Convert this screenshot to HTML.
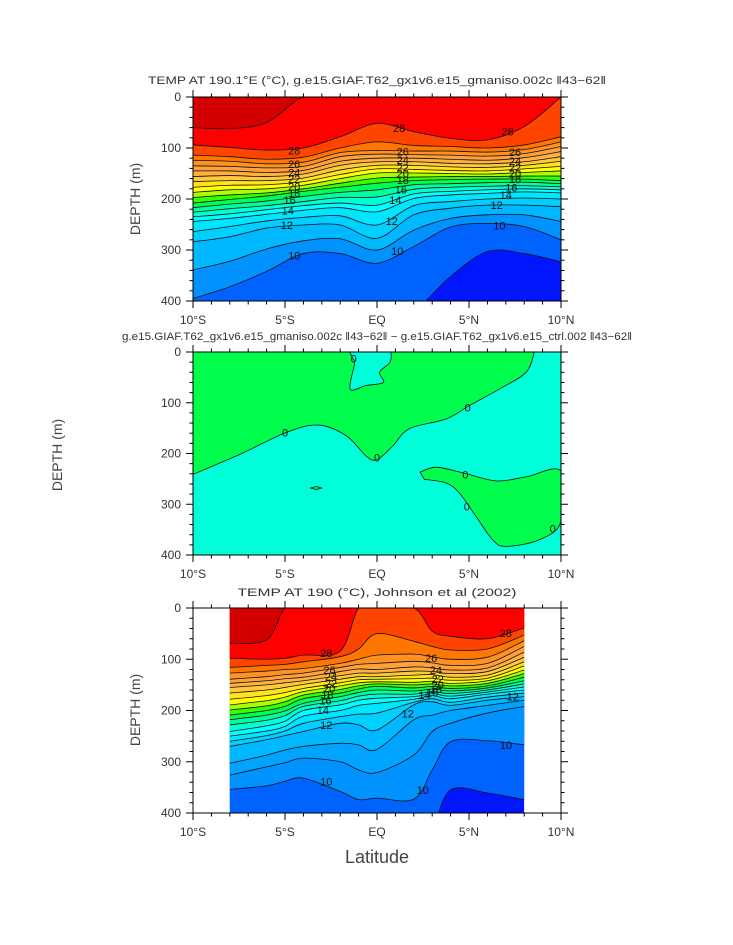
<!DOCTYPE html>
<html><head><meta charset="utf-8"><title>Temperature sections</title>
<style>
html,body{margin:0;padding:0;background:#fff;}
svg{display:block;font-family:"Liberation Sans",sans-serif;}
</style></head>
<body>
<svg id="chart" width="733" height="945" viewBox="0 0 733 945" xmlns="http://www.w3.org/2000/svg">
<rect x="0" y="0" width="733" height="945" fill="#fff"/>
<text x="377" y="84" text-anchor="middle" font-size="11" fill="#333" textLength="458" lengthAdjust="spacingAndGlyphs">TEMP AT 190.1°E (°C), g.e15.GIAF.T62_gx1v6.e15_gmaniso.002c ‖43−62‖</text>
<text x="377" y="340" text-anchor="middle" font-size="11" fill="#333" textLength="510" lengthAdjust="spacingAndGlyphs">g.e15.GIAF.T62_gx1v6.e15_gmaniso.002c ‖43−62‖ − g.e15.GIAF.T62_gx1v6.e15_ctrl.002 ‖43−62‖</text>
<text x="377" y="596" text-anchor="middle" font-size="11" fill="#333" textLength="279" lengthAdjust="spacingAndGlyphs">TEMP AT 190 (°C), Johnson et al (2002)</text>
<text transform="translate(140,199) rotate(-90)" text-anchor="middle" font-size="14" fill="#444">DEPTH (m)</text>
<text transform="translate(62,455) rotate(-90)" text-anchor="middle" font-size="14" fill="#444">DEPTH (m)</text>
<text transform="translate(140,710) rotate(-90)" text-anchor="middle" font-size="14" fill="#444">DEPTH (m)</text>
<text x="377" y="863" text-anchor="middle" font-size="18" fill="#444">Latitude</text>
<g id="layer"></g>
</svg>
<script>
const xTickLats = [-10, -5, 0, 5, 10];
const xTickLabels = ['10°S', '5°S', 'EQ', '5°N', '10°N'];
const yTickDepths = [0, 100, 200, 300, 400];
const yTickLabels = ['0', '100', '200', '300', '400'];

// Panel 1: model temperature, isotherm depths (m) per latitude
const lats1 = [-10, -8, -6, -4, -2, 0, 2, 4, 6, 8, 10];
const levels1 = [29, 28, 27, 26, 25, 24, 23, 22, 21, 20, 19, 18, 17, 16, 15, 14, 13, 12, 11, 10, 9];
const depths1 = [
 [60,62,50,0,0,0,0,0,0,0,0],
 [94,99,104,100,78,52,68,81,84,58,0],
 [114,117,122,118,100,88,95,97,100,94,78],
 [124,126,131,128,109,105,106,106,108,103,88],
 [135,136,139,136,117,112,113,114,116,111,97],
 [145,145,148,144,126,120,120,122,124,119,107],
 [156,154,156,151,134,127,127,130,131,127,117],
 [166,164,164,159,143,134,134,137,138,134,126],
 [177,173,172,166,152,141,142,144,145,141,136],
 [187,182,180,173,160,149,149,150,151,148,145],
 [197,192,188,180,169,159,157,156,156,155,155],
 [208,201,194,185,177,169,164,162,161,161,164],
 [217,210,204,195,187,182,172,170,168,167,170],
 [226,219,213,205,197,196,181,177,175,174,176],
 [235,229,221,213,208,212,190,185,182,180,182],
 [244,238,230,222,217,225,199,192,189,186,188],
 [264,254,243,236,233,251,213,205,200,198,200],
 [284,274,257,251,251,277,231,218,212,212,215],
 [339,322,298,282,278,300,261,238,231,231,244],
 [395,372,342,307,307,326,293,255,248,254,280],
 [450,450,450,450,450,450,420,352,303,307,323]
];
const labelLats1 = [-4.5,1.2,7.1,-4.5,1.4,7.5,-4.5,1.4,7.5,-4.5,1.4,7.5,-4.5,1.4,7.5,-4.5,1.4,7.5,-4.75,1.3,7.3,-4.85,1.0,7.0,-4.9,0.8,6.5,-4.5,1.1,6.65];
const labelDepths1 = [105,61,68,131,107,108,148,124,125,161,138,138,175,150,150,188,163,161,202,181,177,223,202,192,251,243,212,311,302,252];
const labelTexts1 = ['28','28','28','26','26','26','24','24','24','22','22','22','20','20','20','18','18','18','16','16','16','14','14','14','12','12','12','10','10','10'];

// Panel 2: difference field, zero contour geometry
const p2BoundaryLat = [-10,-7.47,-4.97,-3.2,-1.67,-0.59,0,0.86,1.76,3.75,5.0,6.65,8.1,8.55];
const p2BoundaryDepth = [241,202,159,144,165,205,212,185,151,132,106,73,40,0];
const p2NotchLat = [-1.49,-1.31,-1.22,-1.46,-0.59,0.35,0.14,0.71,0.77];
const p2NotchDepth = [0,13,23,73,66,60,40,20,0];
const p2LobeLat = [2.34,3.21,4.66,6.47,8.1,10,10,8.82,7.01,6.29,5.38,4.48,3.76,2.58];
const p2LobeDepth = [237,227,238,254,246,235,334,370,383,370,324,278,258,251];
const p2IsleLat = [-3.6,-3.3,-3.0,-3.3];
const p2IsleDepth = [268,265,268,271];
const labelLats2 = [-5.0,0.0,4.93,4.8,4.88,9.55,-1.27];
const labelDepths2 = [159,208,109,241,304,348,13];
const labelTexts2 = ['0','0','0','0','0','0','0'];

// Panel 3: observed temperature (Johnson et al 2002)
const lats3 = [-8, -6, -5, -4, -2, -1, 0, 2, 3, 4, 6, 8];
const levels3 = [29, 28, 27, 26, 25, 24, 23, 22, 21, 20, 19, 18, 17, 16, 15, 14, 13, 12, 11, 10.5, 10, 9];
const depths3 = [
 [69,62,0,0,0,0,0,0,0,0,0,0],
 [98,100,98,92,84,0,0,0,45,55,60,39],
 [116,112,110,105,95,80,50,65,75,82,80,53],
 [127,123,120,118,108,100,92,90,95,100,96,64],
 [139,134,130,127,116,110,108,104,107,112,108,75],
 [147,142,138,135,124,119,120,115,117,121,117,86],
 [155,150,146,142,132,127,127,123,124,128,124,96],
 [166,160,155,149,139,134,134,131,130,135,131,105],
 [178,171,165,157,146,140,139,138,137,141,137,113],
 [189,181,174,163,152,146,144,145,143,147,142,121],
 [199,191,183,170,159,152,148,150,148,152,147,128],
 [209,200,192,177,166,158,153,156,153,157,152,135],
 [218,209,201,186,173,165,160,162,158,162,156,142],
 [228,219,210,192,181,172,168,168,163,167,160,148],
 [241,230,221,200,189,180,176,173,167,172,164,154],
 [250,240,231,211,200,190,186,178,171,177,168,160],
 [260,249,240,225,212,207,205,184,177,184,174,166],
 [270,257,249,241,225,228,238,189,183,190,180,173],
 [303,287,277,270,264,267,276,218,209,200,190,180],
 [326,310,302,293,300,316,321,287,241,225,205,192],
 [354,347,338,332,358,374,371,373,316,261,259,267],
 [450,450,450,450,450,450,450,460,430,355,361,374]
];
const labelLats3 = [-2.76,7.0,-2.58,2.94,-2.5,3.2,-2.5,3.3,-2.6,3.3,-2.7,3.2,-2.8,3.0,-2.94,2.58,-2.76,1.67,7.38,-2.76,2.49,7.01];
const labelDepths3 = [88,49,121,98,134,121,147,139,157,150,170,158,180,165,199,170,228,206,173,339,355,267];
const labelTexts3 = ['28','28','26','26','24','24','22','22','20','20','18','18','16','16','14','14','12','12','12','10','10','10'];

const bandColors = {29:'#d40000',28:'#ff0000',27:'#ff4400',26:'#ff7700',25:'#ff9022',24:'#ffa03c',23:'#ffb13c',22:'#ffc83c',21:'#ffe41c',20:'#ffff00',19:'#aaff00',18:'#33ff00',17:'#00ff55',16:'#00ff9c',15:'#00ffd4',14:'#00ffff',13:'#00e6ff',12:'#00d0ff',11:'#00b8ff',10.5:'#00a4ff',10:'#0092ff',9:'#0062ff'};
const coldColor = '#0016ff';

const NS = 'http://www.w3.org/2000/svg';
const layer = document.getElementById('layer');
const X0 = 193, X1 = 561;
function xScale(lat){ return X0 + (lat + 10) * (X1 - X0) / 20; }
function yScale(p, d){ return p.y0 + d * (p.y1 - p.y0) / 400; }
function mk(tag, attrs, parent){
  const e = document.createElementNS(NS, tag);
  for (const k in attrs) e.setAttribute(k, attrs[k]);
  (parent || layer).appendChild(e);
  return e;
}
function f(v){ return v.toFixed(2); }
function crSegs(pts){
  let s = '';
  for (let i = 0; i < pts.length - 1; i++){
    const p0 = pts[i-1] || pts[i], p1 = pts[i], p2 = pts[i+1], p3 = pts[i+2] || pts[i+1];
    const c1 = [p1[0] + (p2[0]-p0[0])/6, p1[1] + (p2[1]-p0[1])/6];
    const c2 = [p2[0] - (p3[0]-p1[0])/6, p2[1] - (p3[1]-p1[1])/6];
    s += ' C' + f(c1[0]) + ',' + f(c1[1]) + ' ' + f(c2[0]) + ',' + f(c2[1]) + ' ' + f(p2[0]) + ',' + f(p2[1]);
  }
  return s;
}
function ptsOf(p, lats, deps){ return lats.map((la, i) => [xScale(la), yScale(p, deps[i])]); }

const panels = [
  {id:1, y0:97, y1:301},
  {id:2, y0:352, y1:555},
  {id:3, y0:608, y1:813}
];

const defs = mk('defs', {});


function clipFor(id, x0, y0, x1, y1){
  const cp = mk('clipPath', {id: id}, defs);
  mk('rect', {x: x0, y: y0, width: x1 - x0, height: y1 - y0}, cp);
  return 'url(#' + id + ')';
}

function drawContourPanel(p, lats, levels, depths, lbLat, lbDep, lbTxt, latMin, latMax){
  const clip = clipFor('clip' + p.id, xScale(latMin), p.y0, xScale(latMax), p.y1);
  const g = mk('g', {'clip-path': clip});
  
  
  const bg = mk('rect', {x: xScale(latMin), y: p.y0, width: xScale(latMax) - xScale(latMin), height: p.y1 - p.y0, fill: coldColor}, g);
  
  
  const xl = xScale(lats[0]), xr = xScale(lats[lats.length-1]);
  for (let i = levels.length - 1; i >= 0; i--){
    const pts = ptsOf(p, lats, depths[i]);
    const d = 'M' + f(pts[0][0]) + ',' + f(pts[0][1]) + crSegs(pts) + ' L' + f(xr + 5) + ',' + f(pts[pts.length-1][1]) + ' L' + f(xr + 5) + ',' + (p.y0 - 10) + ' L' + f(xl - 5) + ',' + (p.y0 - 10) + ' L' + f(xl - 5) + ',' + f(pts[0][1]) + ' Z';
    const band = mk('path', {d: d, fill: bandColors[levels[i]], stroke: 'none'}, g);
    
    
  }
  const lg = mk('g', {'clip-path': clip, fill: 'none', stroke: '#111', 'stroke-width': 0.8});
  
  
  for (let i = 0; i < levels.length; i++){
    const pts = ptsOf(p, lats, depths[i]);
    const line = mk('path', {d: 'M' + f(pts[0][0]) + ',' + f(pts[0][1]) + crSegs(pts)}, lg);
    
    
  }
  drawLabels(p, lbLat, lbDep, lbTxt);
}

function drawLabels(p, lbLat, lbDep, lbTxt){
  for (let i = 0; i < lbTxt.length; i++){
    const t = mk('text', {x: f(xScale(lbLat[i])), y: f(yScale(p, lbDep[i]) + 4), 'text-anchor': 'middle', 'font-size': 11, fill: '#111'});
    t.textContent = lbTxt[i];
    
    
  }
}

function drawDiffPanel(p){
  const clip = clipFor('clip2', X0, p.y0, X1, p.y1);
  const g = mk('g', {'clip-path': clip});
  
  
  const bg = mk('rect', {x: X0, y: p.y0, width: X1 - X0, height: p.y1 - p.y0, fill: '#00ffd8'}, g);
  
  
  const bPts = ptsOf(p, p2BoundaryLat, p2BoundaryDepth);
  const rev = bPts.slice().reverse();
  const nPts = ptsOf(p, p2NotchLat, p2NotchDepth);
  let d = 'M' + f(X0 - 5) + ',' + f(p.y0 - 5) + ' L' + f(nPts[0][0]) + ',' + f(p.y0 - 5) + ' L' + f(nPts[0][0]) + ',' + f(nPts[0][1]) + crSegs(nPts) + ' L' + f(nPts[nPts.length-1][0]) + ',' + f(p.y0 - 5) + ' L' + f(rev[0][0]) + ',' + f(p.y0 - 5) + ' L' + f(rev[0][0]) + ',' + f(rev[0][1]) + crSegs(rev) + ' L' + f(X0 - 5) + ',' + f(rev[rev.length-1][1]) + ' Z';
  const top = mk('path', {d: d, fill: '#00ff4c'}, g);
  
  
  const lPts = ptsOf(p, p2LobeLat, p2LobeDepth);
  const lobeD = 'M' + f(lPts[0][0]) + ',' + f(lPts[0][1]) + crSegs(lPts) + ' Z';
  const lobe = mk('path', {d: lobeD, fill: '#00ff4c', stroke: '#111', 'stroke-width': 0.8}, g);
  
  
  const iPts = ptsOf(p, p2IsleLat, p2IsleDepth);
  const isle = mk('path', {d: 'M' + iPts.map(q => f(q[0]) + ',' + f(q[1])).join(' L') + ' Z', fill: '#00ff4c', stroke: '#111', 'stroke-width': 0.8}, g);
  
  
  const bl = mk('path', {d: 'M' + f(bPts[0][0]) + ',' + f(bPts[0][1]) + crSegs(bPts), fill: 'none', stroke: '#111', 'stroke-width': 0.8}, g);
  
  
  const nl = mk('path', {d: 'M' + f(nPts[0][0]) + ',' + f(nPts[0][1]) + crSegs(nPts), fill: 'none', stroke: '#111', 'stroke-width': 0.8}, g);
  
  
  drawLabels(p, labelLats2, labelDepths2, labelTexts2);
}

function drawAxes(p){
  const g = mk('g', {stroke: '#000', 'stroke-width': 1, fill: 'none'});
  
  
  const fr = mk('rect', {x: X0, y: p.y0, width: X1 - X0, height: p.y1 - p.y0}, g);
  
  
  for (let la = -10; la <= 10; la++){
    const maj = xTickLats.indexOf(la) >= 0;
    const L = maj ? 7 : 3.5;
    const x = xScale(la);
    const t1 = mk('line', {x1: x, x2: x, y1: p.y1, y2: p.y1 + L}, g);
    
    
    const t2 = mk('line', {x1: x, x2: x, y1: p.y0, y2: p.y0 - L}, g);
    
    
  }
  for (let dd = 0; dd <= 400; dd += 20){
    const maj = yTickDepths.indexOf(dd) >= 0;
    const L = maj ? 7 : 3.5;
    const y = yScale(p, dd);
    const t1 = mk('line', {x1: X0 - L, x2: X0, y1: y, y2: y}, g);
    
    
    const t2 = mk('line', {x1: X1, x2: X1 + L, y1: y, y2: y}, g);
    
    
  }
  for (let i = 0; i < xTickLats.length; i++){
    const t = mk('text', {x: xScale(xTickLats[i]), y: p.y1 + 23, 'text-anchor': 'middle', 'font-size': 12, fill: '#333'});
    t.textContent = xTickLabels[i];
    
    
  }
  for (let i = 0; i < yTickDepths.length; i++){
    const t = mk('text', {x: X0 - 12, y: yScale(p, yTickDepths[i]) + 4, 'text-anchor': 'end', 'font-size': 12, fill: '#333'});
    t.textContent = yTickLabels[i];
    
    
  }
}

drawContourPanel(panels[0], lats1, levels1, depths1, labelLats1, labelDepths1, labelTexts1, -10, 10);
drawDiffPanel(panels[1]);
drawContourPanel(panels[2], lats3, levels3, depths3, labelLats3, labelDepths3, labelTexts3, -8, 8);
panels.forEach(drawAxes);
</script>
</body></html>
